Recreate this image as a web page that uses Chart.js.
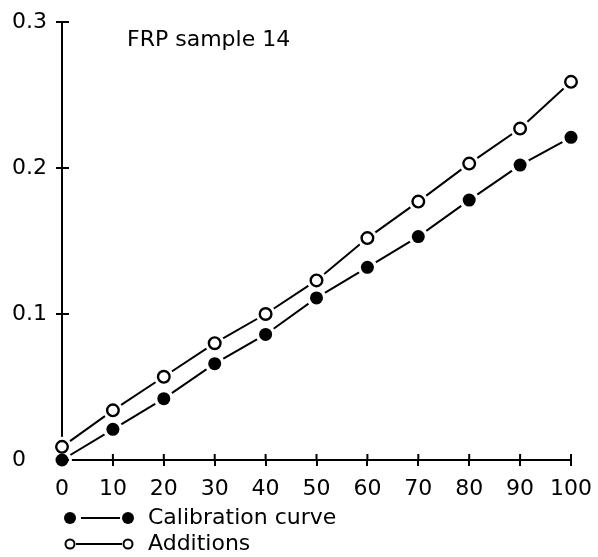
<!DOCTYPE html>
<html>
<head>
<meta charset="utf-8">
<script src="https://cdn.jsdelivr.net/npm/chart.js@4"></script>
<style>
  html, body { margin: 0; padding: 0; background: #fff; }
  #wrap { width: 598px; height: 557px; }
</style>
</head>
<body>
<div id="wrap"><canvas id="frpChart"></canvas></div>
<script>
const concentrations = [0, 10, 20, 30, 40, 50, 60, 70, 80, 90, 100];
const calibrationValues = [0, 0.021, 0.042, 0.066, 0.086, 0.111, 0.132, 0.153, 0.178, 0.202, 0.221];
const additionsValues = [0.009, 0.034, 0.057, 0.080, 0.100, 0.123, 0.152, 0.177, 0.203, 0.227, 0.259];
const xTicks = [0, 10, 20, 30, 40, 50, 60, 70, 80, 90, 100];
const yTicks = [0, 0.1, 0.2, 0.3];
const titleText = 'FRP sample 14';
const legendLabels = ['Calibration curve', 'Additions'];

const FONT = '"DejaVu Sans", sans-serif';

function toPoints(values) {
    return concentrations.map((x, i) => ({ x: x, y: values[i] }));
}

// line + white halo so the segments stop short of the markers
function lineDataset(values) {
    return {
        data: toPoints(values),
        borderColor: '#000',
        borderWidth: 2,
        pointRadius: 10,
        pointBackgroundColor: '#fff',
        pointBorderWidth: 0,
        pointBorderColor: '#fff',
        tension: 0,
        clip: false,
        order: 2
    };
}

function markerDataset(values, filled) {
    return {
        data: toPoints(values),
        showLine: false,
        pointRadius: filled ? 6.5 : 5.8,
        pointBackgroundColor: filled ? '#000' : '#fff',
        pointBorderColor: '#000',
        pointBorderWidth: filled ? 0 : 2.4,
        clip: false,
        order: 1
    };
}

// ticks crossing the axes, title and the legend under the axis
const decorations = {
    id: 'decorations',
    afterDraw(chart) {
        const ctx = chart.ctx;
        const area = chart.chartArea;
        const xs = chart.scales.x;
        const ys = chart.scales.y;
        ctx.save();
        ctx.strokeStyle = '#000';
        ctx.lineWidth = 2;
        ctx.beginPath();
        xTicks.forEach(v => {
            const px = xs.getPixelForValue(v);
            ctx.moveTo(px, area.bottom);
            ctx.lineTo(px, area.bottom - 6);
        });
        yTicks.forEach(v => {
            const py = ys.getPixelForValue(v);
            ctx.moveTo(area.left, py);
            ctx.lineTo(area.left + 7, py);
        });
        ctx.stroke();

        ctx.fillStyle = '#000';
        ctx.font = '22px ' + FONT;
        ctx.textBaseline = 'middle';
        ctx.textAlign = 'left';
        ctx.fillText(titleText, area.left + 65, area.top + 18);

        const symLeft = area.left + 8;
        const symRight = area.left + 66;
        const rows = [area.bottom + 58, area.bottom + 84];
        rows.forEach((y, i) => {
            ctx.lineWidth = 2;
            ctx.beginPath();
            ctx.moveTo(symLeft + (i === 0 ? 11 : 6), y);
            ctx.lineTo(symRight - (i === 0 ? 8 : 6), y);
            ctx.stroke();
            [symLeft, symRight].forEach(cx => {
                ctx.beginPath();
                if (i === 0) {
                    ctx.arc(cx, y, 6, 0, Math.PI * 2);
                    ctx.fill();
                } else {
                    ctx.arc(cx, y, 4.5, 0, Math.PI * 2);
                    ctx.fillStyle = '#fff';
                    ctx.fill();
                    ctx.lineWidth = 2;
                    ctx.stroke();
                    ctx.fillStyle = '#000';
                }
            });
            ctx.fillText(legendLabels[i], area.left + 86, y);
        });
        ctx.restore();
    }
};

new Chart(document.getElementById('frpChart'), {
    type: 'line',
    data: {
        datasets: [
            lineDataset(calibrationValues),
            lineDataset(additionsValues),
            markerDataset(calibrationValues, true),
            markerDataset(additionsValues, false)
        ]
    },
    options: {
        responsive: true,
        maintainAspectRatio: false,
        animation: false,
        events: [],
        layout: { padding: { top: 22, right: 27, bottom: 52, left: 12 } },
        plugins: {
            legend: { display: false },
            tooltip: { enabled: false },
            title: { display: false }
        },
        scales: {
            x: {
                type: 'linear',
                min: 0,
                max: 100,
                afterBuildTicks(scale) { scale.ticks = xTicks.map(v => ({ value: v })); },
                afterFit(scale) {
                    scale.height = 45;
                    scale.paddingRight = 0;
                    scale.paddingLeft = 0;
                },
                border: { display: true, color: '#000', width: 2 },
                grid: { display: true, drawOnChartArea: false, drawTicks: true, tickLength: 6, color: '#000', lineWidth: 2 },
                ticks: {
                    color: '#000',
                    font: { family: FONT, size: 22 },
                    padding: 10,
                    maxRotation: 0,
                    autoSkip: false
                }
            },
            y: {
                type: 'linear',
                min: 0,
                max: 0.3,
                afterBuildTicks(scale) { scale.ticks = yTicks.map(v => ({ value: v })); },
                afterFit(scale) { scale.width = 50; },
                border: { display: true, color: '#000', width: 2 },
                grid: { display: true, drawOnChartArea: false, drawTicks: true, tickLength: 6, color: '#000', lineWidth: 2 },
                ticks: {
                    color: '#000',
                    font: { family: FONT, size: 22 },
                    padding: 6,
                    crossAlign: 'far',
                    callback: v => (v === 0 ? '0' : v.toFixed(1))
                }
            }
        }
    },
    plugins: [decorations]
});
</script>
</body>
</html>
